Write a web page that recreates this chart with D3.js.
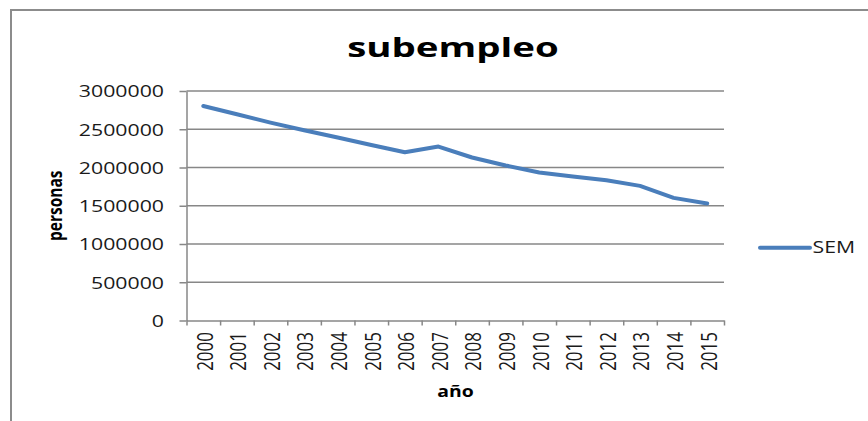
<!DOCTYPE html>
<html>
<head>
<meta charset="utf-8">
<script src="https://cdn.jsdelivr.net/npm/d3@7"></script>
<style>
  body { margin: 0; background: #fff; }
  text { font-family: "Open Sans", sans-serif; }
</style>
</head>
<body>
<div id="chart"></div>
<script>
// data
const years = ["2000", "2001", "2002", "2003", "2004", "2005", "2006", "2007",
  "2008", "2009", "2010", "2011", "2012", "2013", "2014", "2015"];
const sem = [2804000, 2696000, 2587000, 2487000, 2392000, 2295000, 2200000, 2274000,
  2131000, 2026000, 1935000, 1882000, 1834000, 1760000, 1603000, 1530000];
const yTicks = [0, 500000, 1000000, 1500000, 2000000, 2500000, 3000000];
const seriesName = "SEM";
const title = "subempleo";
const xTitle = "año";
const yTitle = "personas";

// layout
let W = 868, H = 421;
let plot = { left: 186.5, right: 724, top: 91, bottom: 320.5 };
let sx = 1.29; // text in the picture is stretched horizontally
let lineColor = "#4a7ebb", gridColor = "#878787";

let svg = d3.select("#chart").append("svg")
  .attr("width", W).attr("height", H);

// outer chart frame (runs off the right and bottom of the picture)
svg.append("rect")
  .attr("x", 11).attr("y", 10)
  .attr("width", W + 20).attr("height", H + 20)
  .attr("fill", "#fff").attr("stroke", "#8c8c8c").attr("stroke-width", 2);

//Scales
let x = d3.scaleBand().domain(years).range([plot.left, plot.right]).padding(0);
let xIdx = d3.scaleLinear().domain([0, years.length]).range([plot.left, plot.right]);
let y = d3.scaleLinear().domain([0, 3000000]).range([plot.bottom, plot.top]);

// horizontal gridlines
svg.append("g").selectAll("line")
  .data(yTicks.filter(d => d > 0))
  .enter().append("line")
  .attr("x1", plot.left).attr("x2", plot.right)
  .attr("y1", d => y(d)).attr("y2", d => y(d))
  .attr("stroke", gridColor).attr("stroke-width", 1.5);

// y axis
let yAxis = svg.append("g")
  .attr("transform", "translate(" + plot.left + ",0)")
  .call(d3.axisLeft(y).tickValues(yTicks).tickSize(7).tickSizeOuter(0)
    .tickFormat(d3.format("d")));
yAxis.selectAll("path, line").attr("stroke", gridColor).attr("stroke-width", 1.5);
yAxis.selectAll("text")
  .attr("x", 0).attr("dy", "0.36em")
  .attr("transform", "translate(" + (164 - plot.left) + ",0) scale(" + sx + ",1)")
  .style("font-family", "'Open Sans', sans-serif")
  .style("font-size", "16.5px")
  .attr("fill", "#1a1a1a");

// x axis: ticks at category boundaries
let xAxis = svg.append("g")
  .attr("transform", "translate(0," + plot.bottom + ")")
  .call(d3.axisBottom(xIdx).tickValues(d3.range(years.length + 1))
    .tickSize(5).tickSizeOuter(0).tickFormat(""));
xAxis.selectAll("path, line").attr("stroke", gridColor).attr("stroke-width", 1.5);

// x labels, rotated
svg.append("g").selectAll("text")
  .data(years)
  .enter().append("text")
  .attr("transform", d => "translate(" + (x(d) + x.bandwidth() / 2 + 1.5) + ",332) scale(" + sx + ",1) rotate(-90)")
  .attr("text-anchor", "end")
  .attr("dy", "0.36em")
  .style("font-size", "17px")
  .attr("fill", "#1a1a1a")
  .text(d => d);

// the series line
let line = d3.line()
  .x((d, i) => x(years[i]) + x.bandwidth() / 2)
  .y(d => y(d));

svg.append("path")
  .datum(sem)
  .attr("d", line)
  .attr("fill", "none")
  .attr("stroke", lineColor)
  .attr("stroke-width", 4)
  .attr("stroke-linejoin", "round")
  .attr("stroke-linecap", "round");

// titles
svg.append("text")
  .attr("transform", "translate(453,57.3) scale(1.45,1)")
  .attr("text-anchor", "middle")
  .style("font-size", "26.5px").style("font-weight", "bold")
  .text(title);

svg.append("text")
  .attr("transform", "translate(455.5,396.5) scale(1.25,1)")
  .attr("text-anchor", "middle")
  .style("font-size", "15.5px").style("font-weight", "bold")
  .text(xTitle);

svg.append("text")
  .attr("transform", "translate(62," + ((plot.top + plot.bottom) / 2) + ") scale(1.27,1) rotate(-90)")
  .attr("text-anchor", "middle")
  .style("font-size", "15.5px").style("font-weight", "bold")
  .text(yTitle);

// legend
let legend = svg.append("g").attr("transform", "translate(760,247.7)");
legend.append("line")
  .attr("x1", 0).attr("x2", 50)
  .attr("stroke", lineColor).attr("stroke-width", 4)
  .attr("stroke-linecap", "round");
legend.append("text")
  .attr("transform", "translate(52.5,5.6) scale(1.25,1)")
  .style("font-size", "17px")
  .attr("fill", "#1a1a1a")
  .text(seriesName);
</script>
</body>
</html>
